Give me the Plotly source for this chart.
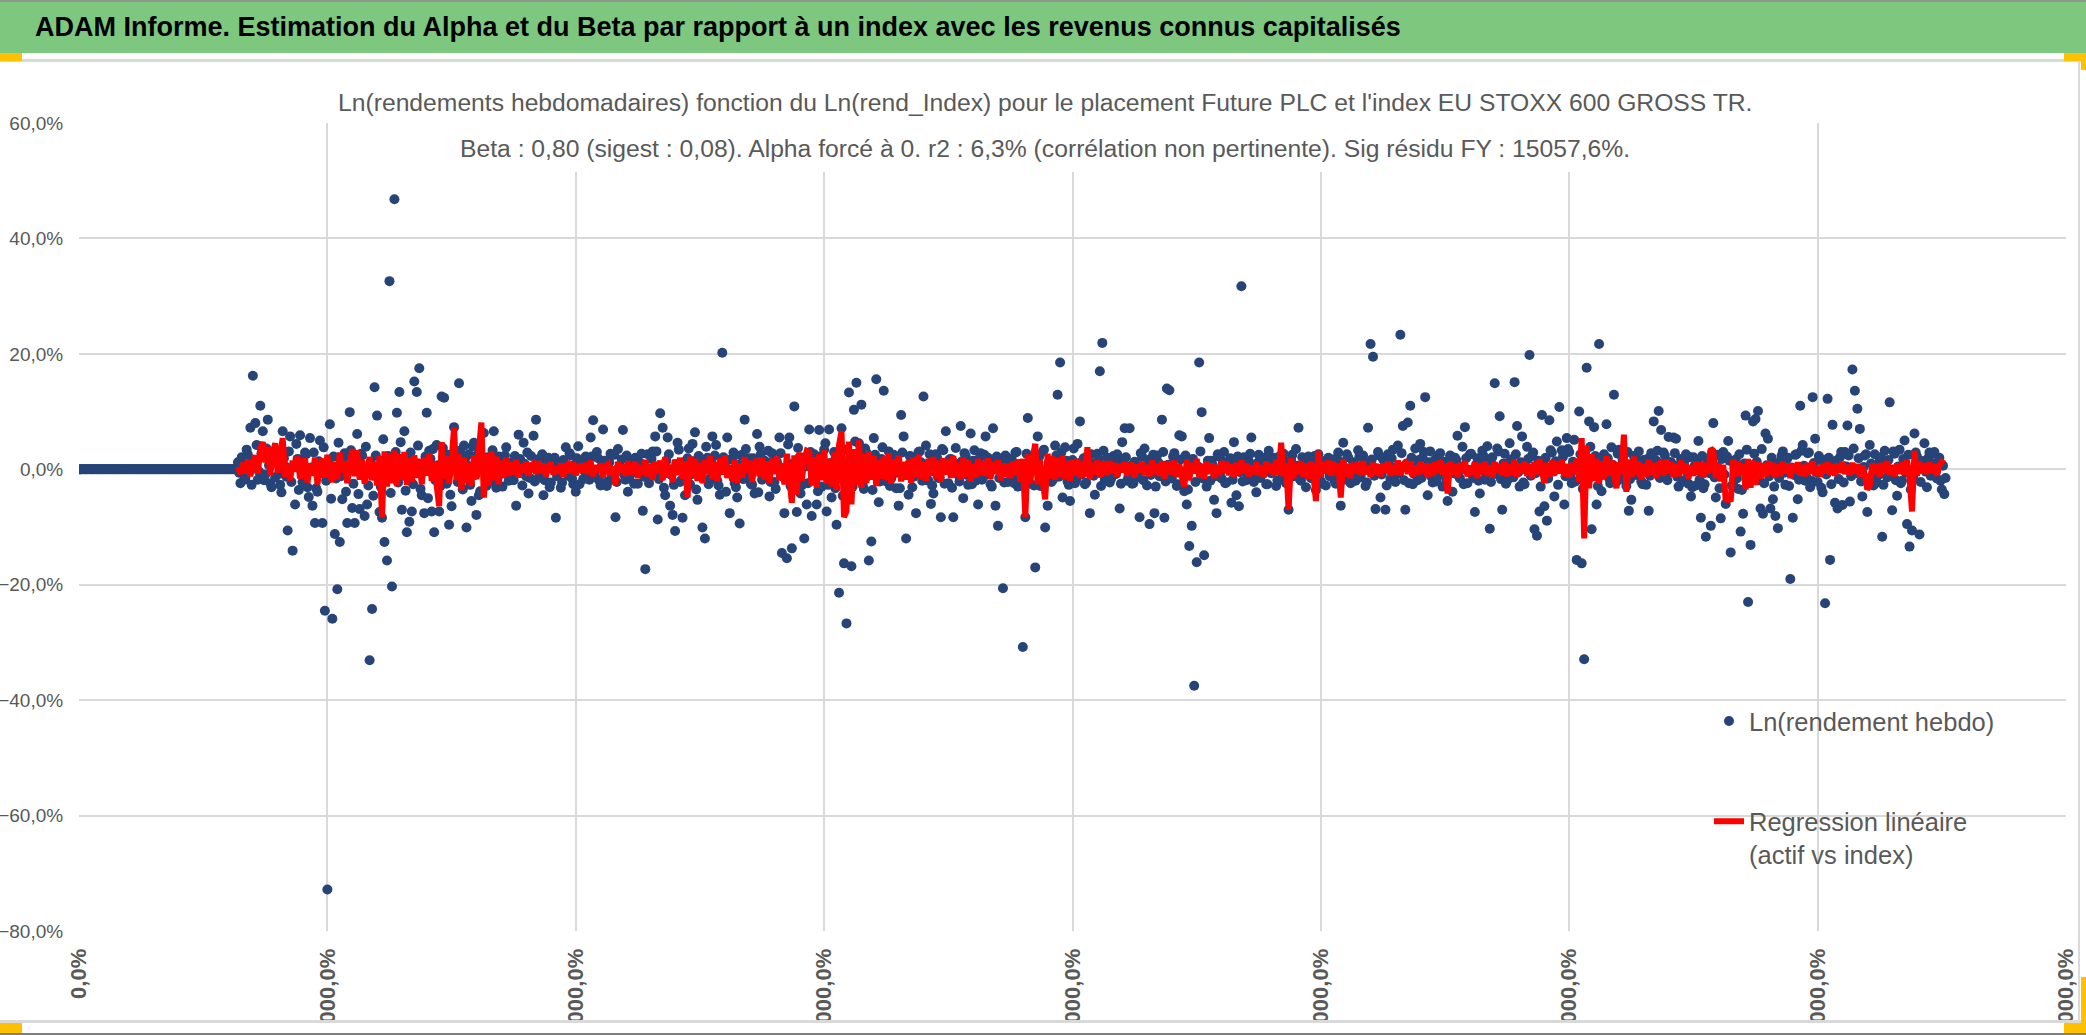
import numpy as np
import plotly.graph_objects as go

LARGEUR, HAUTEUR = 2086, 1035
MARGE_G, MARGE_D, MARGE_H, MARGE_B = 79, 20, 123, 104

TITRE = "ADAM Informe. Estimation du Alpha et du Beta par rapport à un index avec les revenus connus capitalisés"
SOUS_TITRE_1 = ("Ln(rendements hebdomadaires) fonction du Ln(rend_Index) pour le placement "
                "Future PLC et l'index EU STOXX 600 GROSS TR.")
SOUS_TITRE_2 = ("Beta : 0,80 (sigest : 0,08). Alpha forcé à 0. r2 : 6,3% (corrélation non pertinente). "
                "Sig résidu FY : 15057,6%.")
NOM_ACTIF = "Ln(rendement hebdo)"
NOM_REGRESSION = "Regression linéaire<br>(actif vs index)"

graduations_x = [0, 200, 400, 600, 800, 1000, 1200, 1400, 1600]
graduations_y = [-0.8, -0.6, -0.4, -0.2, 0.0, 0.2, 0.4, 0.6]

# valeurs en %, une par semaine
# semaines 0 a 127 : pas encore cote, rendement nul
avant_cotation = [
    0, 0, 0, 0, 0, 0, 0, 0, 0, 0, 0, 0, 0, 0, 0, 0,
    0, 0, 0, 0, 0, 0, 0, 0, 0, 0, 0, 0, 0, 0, 0, 0,
    0, 0, 0, 0, 0, 0, 0, 0, 0, 0, 0, 0, 0, 0, 0, 0,
    0, 0, 0, 0, 0, 0, 0, 0, 0, 0, 0, 0, 0, 0, 0, 0,
    0, 0, 0, 0, 0, 0, 0, 0, 0, 0, 0, 0, 0, 0, 0, 0,
    0, 0, 0, 0, 0, 0, 0, 0, 0, 0, 0, 0, 0, 0, 0, 0,
    0, 0, 0, 0, 0, 0, 0, 0, 0, 0, 0, 0, 0, 0, 0, 0,
    0, 0, 0, 0, 0, 0, 0, 0, 0, 0, 0, 0, 0, 0, 0, 0,
]

# Ln(rendement hebdo), semaines paires 128 a 1502
rend_pair = [
    1.2, -2.4, 0.8, -1.5, 2.5, 7.2, 16.2, 8.0, -1.8, 11.0,
    6.6, -0.9, 8.6, -2.4, 2.1, -1.4, 3.0, -2.7, 6.6, 0.5,
    -10.6, 5.7, -14.1, -6.1, 1.8, 5.9, -2.2, 2.9, -3.1, 5.4,
    -6.3, -9.3, -3.9, 5.0, -9.3, -24.5, -72.8, 7.8, -25.9, -11.2,
    -20.8, -12.6, -5.2, 2.8, -9.3, 9.9, -6.7, -9.3, 6.1, -6.9,
    2.4, -8.1, -6.1, -33.1, -24.2, 14.2, 9.3, -7.4, -8.4, -12.6,
    -15.8, 32.6, -20.3, 46.8, 9.8, 13.4, -7.0, 6.6, -10.9, -9.1,
    -7.3, 15.2, 13.4, 17.5, -4.5, -7.6, 9.8, 3.2, -7.3, -10.9,
    4.2, -7.3, 12.6, 12.4, -2.5, -9.6, -6.4, 7.3, 2.1, 14.9,
    -1.8, 4.1, -10.1, 2.6, -5.5, 4.6, -7.9, -4.5, 1.7, 6.3,
    -2.9, 1.3, -1.6, 6.6, -3.2, 2.2, -0.8, 1.9, 3.8, -2.0,
    0.6, -1.9, -6.3, 6.0, 1.4, 4.6, -1.2, -4.2, 2.3, 5.8,
    8.6, -1.5, 1.8, -4.5, 0.3, 2.0, -2.3, 1.1, -8.4, 0.9,
    -3.2, 1.6, 3.8, -1.1, 2.4, -2.6, -3.9, 4.0, 0.5, -1.7,
    2.2, -0.9, 5.5, 8.5, -1.4, 1.9, -2.8, 6.9, 1.2, -2.1,
    2.7, -1.0, -8.3, 3.5, 0.4, 6.8, -1.8, -3.9, 1.5, -0.6,
    2.0, -2.5, 1.1, -7.2, -17.3, 2.6, -1.3, 3.1, 5.7, -8.7,
    9.7, 7.2, -4.5, 5.5, -6.3, -7.9, -10.7, 4.6, -2.2, -8.4,
    -4.5, 1.9, -2.6, 4.4, 6.4, -5.3, 1.2, -10.1, -12.0, 2.0,
    -1.6, 5.7, 2.4, -2.0, -4.4, 20.2, 1.0, 5.5, -7.6, 1.8,
    -2.4, -4.9, -9.4, 2.5, 8.6, -1.1, 1.9, -2.7, -4.2, 6.1,
    3.9, -1.8, 1.5, -0.7, -4.7, 2.8, -2.2, 1.3, 5.5, -14.5,
    -7.6, -15.4, 5.5, -13.7, 10.9, -7.4, 2.0, -2.8, -12.0, -6.1,
    6.9, -8.1, 2.6, -6.1, 6.8, -3.0, 3.4, -7.3, 6.9, -4.9,
    3.0, -9.6, -21.4, 7.1, -16.3, -26.7, 13.3, -16.8, 10.3, 15.0,
    4.5, 11.2, -3.4, 2.9, -15.8, -12.5, 5.4, 15.6, -5.7, 1.8,
    13.6, -2.1, 3.1, -1.6, 2.5, -3.3, -6.3, 9.4, 5.7, -12.0,
    -4.4, 2.2, -1.3, -7.6, 3.0, 1.2, 12.6, 4.1, -2.0, -6.0,
    -4.2, 2.6, -1.5, -8.3, 3.3, 6.6, -2.4, 1.8, -8.3, 3.7,
    -1.0, 7.5, -5.0, 2.3, -2.7, 6.2, 1.5, -2.0, -6.1, 2.8,
    -1.4, 5.7, 2.0, -2.6, 7.1, -6.3, -9.8, 1.6, -20.6, 2.4,
    -2.2, 1.2, -1.0, 2.9, -3.0, 0.8, -30.8, -8.3, 8.9, -2.5,
    2.1, -17.0, 5.7, -2.9, 3.0, -10.1, -6.3, 1.4, -1.9, 4.1,
    12.9, 18.5, -4.9, 3.8, -2.1, -5.5, 1.6, -2.4, 4.4, 8.3,
    1.2, -2.6, 2.3, -7.6, 1.0, -4.4, 2.7, 17.0, 21.9, -1.8,
    2.0, -2.3, 1.5, -0.9, 2.6, -6.8, 4.7, 7.1, -2.0, 7.1,
    -2.5, 1.3, -1.4, -8.3, 2.2, 3.6, -2.8, -9.5, 1.9, -7.6,
    2.4, -1.2, 8.6, -8.4, 14.0, 13.7, -1.6, 2.8, -2.9, 5.9,
    5.7, -3.8, -6.1, -13.3, -9.8, -37.5, -16.1, 18.5, 9.9, -14.9,
    -3.0, 5.4, 1.5, -5.3, -7.6, 2.2, -1.6, 3.0, -2.3, 1.1,
    -5.8, 4.7, -4.5, -6.4, 31.7, 2.1, -1.9, 1.4, 5.5, -2.2,
    -4.0, 2.5, -1.1, 1.8, -2.6, 3.2, -0.7, 2.0, -2.9, 1.3,
    -1.8, 2.7, -2.4, -7.0, 1.6, -1.2, 3.5, 7.2, -2.0, 1.0,
    -3.1, 2.2, -1.5, 0.9, -3.6, 2.6, -2.1, 1.4, -2.8, 2.0,
    -1.0, 1.7, -2.5, 2.9, -6.3, 4.6, -1.6, 2.1, -2.4, 1.2,
    -2.0, 3.3, -1.4, 2.4, -2.9, 7.2, 21.7, 19.5, -6.9, 3.0,
    -4.9, 1.8, -7.0, 2.6, -1.7, 3.4, -2.2, 4.1, 23.3, 7.5,
    -7.0, 8.1, 11.0, -2.6, 3.6, -1.9, 4.4, 2.0, 12.5, -4.5,
    3.1, -2.3, 1.7, -1.2, 2.8, -3.0, 1.3, -5.5, 2.4, -3.9,
    2.0, 5.8, -1.6, 3.9, 7.3, -2.4, 2.6, -1.0, -7.4, 1.9,
    -4.2, 3.2, -1.8, 4.0, -10.3, 2.1, 14.9, 3.6, 9.2, -7.0,
    2.7, -2.0, 4.5, 1.1, 15.1, 7.5, -3.0, 5.7, -2.6, 3.9,
    19.8, 2.4, -10.4, -11.5, -7.3, 9.4, -6.4, -8.9, 8.5, 2.9,
    -4.7, 4.8, 10.8, 3.3, -6.1, 5.4, 3.0, -2.4, 5.1, -15.7,
    10.0, -16.3, -32.9, 17.6, 8.3, -10.4, 7.3, -6.1, 21.7, -3.8,
    2.6, 7.8, -1.5, 3.8, 12.9, -2.2, 3.4, -1.3, 2.5, -2.9,
    -7.2, -5.3, 2.3, -1.0, 3.1, -2.1, 1.6, -2.7, -7.2, 2.8,
    8.3, 1.5, 10.1, 6.8, 2.9, -1.4, 5.6, 1.2, 5.5, 5.3,
    -3.0, 1.8, -1.9, 2.6, -2.5, -4.7, 2.1, -2.8, 4.9, -8.4,
    -3.3, -11.7, 1.9, -9.8, 8.0, -4.9, 2.5, -8.5, 3.0, -6.0,
    4.9, -14.4, -2.6, 1.7, -3.4, -10.8, -7.7, 9.3, -23.0, -13.1,
    8.3, 8.7, 10.1, -6.8, -7.7, 6.2, 5.3, -6.8, -5.2, -8.1,
    -10.2, 1.4, 3.1, -2.7, 2.0, -19.0, -8.4, 2.5, -5.2, 11.0,
    4.2, -2.0, 2.8, -3.1, 12.5, 5.3, -2.2, 1.6, -4.0, -23.2,
    12.2, -15.7, 7.7, -5.8, -6.8, 2.1, -6.2, 3.0, 7.6, -5.6,
    17.3, 13.6, 10.5, 7.0, -4.7, 2.4, -7.4, 4.2, -1.8, 2.6,
    -2.3, 1.5, -11.7, 3.2, -1.4, 11.6, -7.1, 2.7, -4.6, 3.4,
    -2.0, 5.0, -9.5, -13.4, -10.6, 6.2, 2.2, -11.3, 1.4, 4.5,
    -3.1, 2.9, 1.0, 3.0, -1.6, 2.0, -3.5, -4.3,
]

# Ln(rendement hebdo), semaines impaires 129 a 1503
rend_impair = [
    -0.6, 2.1, -1.8, 3.4, 0.9, -2.7, 1.5, 4.2, -0.4, 2.8,
    -1.9, 3.6, 0.7, -3.1, 1.2, 2.5, -0.8, -4.0, 1.9, -1.3,
    3.1, -2.2, 0.5, 4.4, -3.6, 1.7, -1.0, 2.6, -4.8, 0.3,
    2.9, -3.3, 1.4, -0.7, 3.8, -2.0, 0.9, -5.1, 2.2, -1.6,
    4.6, -1.2, 2.0, -3.9, 0.6, 3.3, -2.5, 1.1, -4.3, 2.7,
    -0.9, 3.9, -2.8, 1.3, -4.6, 2.4, 0.2, -3.0, 5.2, -1.5,
    2.3, -4.1, 0.8, 3.0, -2.3, 4.7, -1.1, -3.7, 1.6, 2.9,
    -2.6, 1.0, 4.1, -3.4, 0.4, 2.2, -5.0, 1.8, 3.5, -1.9,
    0.7, -2.9, 3.7, -1.4, 2.5, -4.4, 1.2, 0.1, -2.2, 3.2,
    -3.5, 1.9, 0.6, -2.7, 4.0, -1.0, 2.6, -3.8, 1.4, -0.5,
    2.1, -1.7, 3.3, -2.4, 0.8, 1.6, -3.0, 2.4, -0.9, 1.1,
    -1.4, 2.3, -0.6, 1.8, -2.8, 0.9, 2.9, -1.5, 0.3, -2.1,
    1.7, -0.8, 2.6, -1.9, 0.5, -3.1, 1.3, 2.0, -1.2, 0.7,
    -2.3, 1.0, -0.4, 2.8, -1.6, 0.8, 1.9, -2.6, 1.4, -0.3,
    0.9, -1.8, 2.2, -0.7, 3.0, -2.0, 0.6, 1.5, -2.9, 1.2,
    -1.1, 2.5, -2.2, 0.4, 1.7, -0.9, 2.4, -1.6, 0.8, -2.5,
    1.6, -0.5, 2.7, -1.3, 0.2, -2.4, 1.8, -0.8, 3.1, -1.7,
    0.6, -3.2, 1.5, 2.6, -1.0, -2.7, 0.9, 3.4, -1.9, 1.2,
    -2.0, 3.6, -0.9, 1.4, -3.5, 2.3, -1.2, 0.5, 3.9, -2.6,
    1.3, -1.5, 4.2, -2.8, 0.7, 2.1, -3.9, 1.6, -0.4, 2.9,
    -3.1, 0.8, 2.4, -1.7, 3.5, -0.6, -2.5, 1.9, 0.3, -4.0,
    2.6, -1.1, 0.9, 3.2, -2.2, 1.5, -3.4, 0.6, 2.8, -1.3,
    -0.7, 4.3, -2.9, 1.0, -1.8, 3.7, -4.2, 2.0, 0.5, -2.4,
    3.0, -1.6, 1.8, -3.8, 2.2, -0.2, 4.5, -2.7, 1.1, -1.0,
    -3.3, 2.7, 0.4, -4.6, 3.4, -1.5, 2.0, -3.0, 4.8, -0.8,
    1.7, -2.6, 3.6, -1.2, 0.6, -3.6, 2.5, 1.0, -2.1, 3.8,
    -1.5, 0.9, -2.9, 2.4, -0.7, 1.6, -3.3, 2.9, -1.0, 0.4,
    2.3, -3.1, 1.2, -0.5, 3.1, -2.0, 0.8, -1.7, 2.6, -2.8,
    0.6, 2.0, -1.4, 3.5, -2.5, 0.3, 1.7, -3.2, 1.1, -0.6,
    -2.1, 1.4, 2.8, -1.0, 0.5, -2.6, 3.3, -0.8, 1.9, -1.8,
    2.5, -0.9, 0.7, -3.0, 1.6, 2.2, -1.5, 0.4, -2.3, 1.3,
    -0.6, 1.8, -2.4, 3.0, -1.2, 0.9, -1.9, 2.7, -0.3, 1.0,
    -2.8, 0.6, 2.1, -1.6, 3.4, -0.7, 1.2, -2.2, 0.8, 2.4,
    -1.3, 2.9, -0.5, 1.5, -2.7, 0.2, 3.6, -1.8, 1.0, -0.9,
    1.9, -2.3, 0.7, 2.6, -1.1, -0.4, 1.8, -2.9, 3.2, -1.4,
    0.5, -1.7, 2.3, -0.8, 1.4, -2.5, 0.9, 2.1, -1.3, 0.6,
    -2.4, 1.1, -0.6, 2.8, -1.9, 0.4, 1.6, -1.0, 2.5, -3.0,
    1.2, -0.7, 3.0, -2.1, 0.8, -1.4, 2.2, -0.3, -2.6, 1.7,
    -1.0, 2.4, -3.5, 0.9, 1.8, -2.2, 0.5, 3.1, -1.6, 0.2,
    1.5, -2.0, 0.7, -1.2, 2.6, -0.6, 1.3, -2.4, 0.4, 1.9,
    -1.8, 0.9, 2.2, -0.5, -2.1, 1.6, -0.9, 2.7, -1.4, 0.6,
    1.1, -1.5, 0.3, 2.0, -2.6, 1.2, -0.4, 1.7, -1.9, 2.3,
    -0.7, 1.4, -2.2, 0.8, 2.5, -1.1, 0.6, -1.7, 2.1, -0.9,
    1.8, -0.4, -1.6, 2.3, -0.8, 1.0, -2.5, 0.7, 1.5, -1.2,
    0.4, -2.0, 1.9, -0.6, 1.2, -1.8, 2.6, -0.3, -1.4, 0.9,
    -1.6, 2.2, -0.5, 1.3, -2.3, 0.8, 1.7, -1.1, 0.2, 2.4,
    -0.9, 1.5, -2.8, 0.6, 1.9, -1.3, 0.4, -0.7, 2.8, -1.9,
    1.0, -2.4, 2.0, -0.8, 0.5, 1.6, -1.5, 3.0, -0.6, 1.2,
    -1.3, 0.7, -2.1, 2.5, -0.4, 1.1, -1.8, 0.9, 2.2, -0.7,
    1.6, -1.2, 0.5, -2.6, 1.9, -0.3, 2.7, -1.5, 0.8, -2.0,
    0.9, 2.3, -1.0, 1.4, -2.2, 0.6, -0.8, 3.1, -1.7, 1.0,
    -2.5, 0.8, 1.7, -1.4, 2.6, -0.5, 1.2, -2.3, 0.4, 1.8,
    -1.1, 2.9, -0.7, 1.5, -3.0, 0.9, 2.0, -1.6, 3.3, -0.4,
    1.4, -2.7, 0.6, 2.2, -1.2, 3.5, -0.9, 1.3, -2.1, 0.7,
    2.6, -3.4, 1.0, -1.8, 3.9, -0.6, 2.3, -2.9, 1.5, -1.0,
    0.5, 1.9, -2.4, 0.8, -1.3, 2.7, -0.4, 1.6, -2.0, 3.0,
    -1.7, 0.7, 2.2, -0.9, 1.4, -2.6, 0.3, 1.8, -1.1, 2.5,
    -0.6, 3.2, -1.5, 0.9, 2.4, -1.9, 1.2, -0.2, 2.8, -1.3,
    0.8, -2.2, 1.6, -0.5, 2.1, -3.1, 0.6, 1.3, -1.8, 2.3,
    -2.6, 1.1, -0.7, 2.9, -1.4, 0.5, -3.3, 1.8, -0.9, 2.2,
    1.5, -2.8, 0.4, -1.6, 2.6, -3.6, 1.0, 3.4, -2.2, -0.8,
    2.7, 1.3, -1.9, 3.5, -2.4, 0.7, -1.2, 2.0, -3.0, 0.9,
    -1.5, 2.4, -0.6, 1.7, -2.9, 0.3, -1.0, 2.6, -1.8, 3.2,
    0.6, -1.4, 2.9, -2.0, 1.1, -0.5, 2.3, -3.2, 1.6, -0.9,
    2.0, -2.6, 0.8, 1.5, -1.7, 3.0, -2.3, 0.5, 2.4, -1.2,
    3.6, -0.7, 1.9, -2.1, 0.4, 2.6, -1.6, 1.0, -2.8, 0.7,
    -1.0, 2.1, -2.7, 0.9, 1.6, -0.8, 3.1, -1.9, 0.5, -2.4,
    1.8, -0.6, 2.5, -3.5, -1.3, 2.9, 0.8, -2.2, 1.4, -0.4,
    1.9, -1.1, 2.7, -0.5, 1.2, -2.0, 0.6, -1.5,
]

# regression lineaire (beta x Ln(rend index)), semaines paires 128 a 1502
regression = [
    0.4, -0.8, 1.1, -0.5, 1.6, -1.2, 0.9, 2.4, -0.7, 3.6,
    4.7, 1.2, 3.9, -1.0, 2.8, 4.5, -0.6, 1.7, 5.4, -1.3,
    0.8, -1.9, 1.5, -0.4, 2.2, -1.6, 0.6, 1.9, -2.3, 1.0,
    -1.1, 2.0, -2.6, 0.7, 1.8, -1.4, 2.5, -0.9, -2.2, 1.3,
    -1.7, 2.9, -0.6, 1.4, -2.4, 0.9, 3.5, -1.2, 3.3, -1.8,
    1.6, -2.5, 0.8, 2.1, -1.9, 1.2, -2.8, 2.3, -8.3, 3.1,
    -3.0, 2.8, -2.4, 3.2, -2.9, 2.6, -1.8, 3.0, -2.7, 1.9,
    -2.2, 2.4, -1.5, 1.8, -2.6, 2.0, -1.1, 2.7, -2.0, 1.3,
    -2.8, -6.4, 4.7, -1.6, 2.2, -2.5, 1.4, 7.2, -1.9, 2.6,
    -3.6, 2.0, -2.3, 1.1, -2.9, 2.4, -1.7, 3.0, 8.1, -4.9,
    2.6, -2.8, 3.1, -1.9, 2.2, -2.6, 1.5, -1.3, 2.0, -1.1,
    1.2, -0.9, 1.6, -1.4, 0.8, -0.5, 1.3, -1.1, 0.7, 1.0,
    -0.8, 1.4, -0.6, 0.9, -1.2, 0.5, 1.1, -0.9, 0.4, -0.7,
    1.0, -1.3, 0.6, 0.9, -0.7, 1.2, -1.0, 0.3, 0.8, -0.6,
    1.1, -0.8, 1.5, -1.2, 0.7, -0.4, 1.0, -1.4, 0.6, 0.9,
    -1.0, 0.5, -2.7, 1.3, -0.6, 0.8, -1.1, 1.4, -0.9, 0.4,
    1.2, -1.5, 0.7, -0.9, 1.6, -1.2, 0.9, -1.8, 1.3, -0.7,
    1.5, -1.9, 2.1, -1.4, 0.8, -2.2, 1.7, -1.0, 2.0, -1.6,
    1.4, -4.9, 2.2, -1.3, 1.8, -2.0, 1.1, -2.4, 1.6, -0.8,
    2.3, -1.7, 1.2, -2.1, 1.9, -0.9, 2.4, -1.5, 0.7, -2.0,
    1.6, -2.3, 1.0, -1.4, 2.1, -0.6, 1.5, -2.2, 0.9, 1.7,
    -1.2, 2.0, -1.7, 1.3, -2.4, 1.8, -0.8, 2.2, -1.9, 1.0,
    -2.6, 2.7, -3.1, -5.8, 2.4, -4.4, 2.9, -2.0, 1.6, 3.2,
    3.0, -2.8, 2.1, -3.2, 2.6, -1.9, 3.3, -2.5, 1.8, -3.0,
    2.9, -3.6, 4.2, 6.6, -8.3, -7.3, 4.8, -6.1, 3.5, -2.7,
    5.0, -3.2, 2.6, -2.4, 3.1, -1.8, 2.3, -2.9, 1.5, -1.6,
    2.2, -1.9, 2.8, -2.5, 1.7, -1.2, 2.4, -2.1, 1.3, -1.8,
    1.6, -2.3, 2.0, -1.4, 2.5, -1.7, 1.2, -2.0, 1.8, -1.1,
    2.1, -1.6, 1.4, -2.2, 1.9, -0.9, 1.7, -1.5, 2.3, -1.2,
    1.1, -1.8, 2.0, -1.3, 1.5, -2.1, 0.9, -1.4, 1.8, -1.0,
    1.4, -1.1, 1.9, -1.6, 1.2, -0.8, 1.6, -1.9, 1.0, -1.3,
    0.9, -1.5, 1.3, -1.0, 1.7, -2.2, 1.8, -8.3, 2.6, -2.4,
    2.0, 4.4, -2.6, 1.5, -2.1, -5.2, 2.7, -1.6, 2.2, -1.8,
    1.9, -1.3, 2.3, -1.7, 1.4, -2.0, 1.6, -1.1, 1.8, -1.5,
    1.3, -1.2, 3.8, -1.6, 1.1, -0.9, 1.5, -1.4, 0.8, 1.2,
    -1.0, 1.4, -0.7, 1.1, -1.3, 0.9, -0.5, 1.2, -1.1, 0.6,
    1.0, -1.4, 0.8, -0.6, 1.3, -1.0, 0.7, -1.2, 1.5, -0.8,
    0.9, -1.1, 1.4, -1.6, 0.6, 1.2, -0.9, 1.5, -1.3, 0.8,
    -1.2, -3.0, 1.6, -1.9, 1.1, -0.7, 1.8, -1.4, 0.9, -1.6,
    1.3, -0.8, 1.0, -1.5, 0.7, -1.1, 1.4, -0.6, 1.2, -1.0,
    0.8, -1.3, 1.1, -0.9, 1.5, -0.7, 1.0, -1.2, 0.6, -0.8,
    1.2, -1.0, 0.7, -1.4, 1.3, -0.6, 0.9, -1.1, 1.6, -0.9,
    4.6, -1.2, 1.0, -7.0, 1.9, -1.5, 1.1, -0.8, 1.4, -1.3,
    1.0, -1.6, 1.3, -0.9, -5.5, 3.2, -1.4, 1.2, -0.7, 1.5,
    -1.1, 1.3, -0.8, 1.0, -4.9, 1.7, -1.2, 0.9, -1.5, 1.1,
    -0.7, 1.2, -1.0, 1.4, -0.8, 0.6, -1.3, 1.1, -0.9, 0.8,
    -1.2, 1.0, -0.6, 1.3, -1.1, 0.7, -0.9, 1.5, -1.0, 0.8,
    1.1, -0.8, 1.4, -1.2, 0.6, -1.0, 1.3, -0.7, 1.0, -1.4,
    0.9, -1.1, 1.2, -0.6, 1.5, -0.9, 1.0, -4.2, 1.3, -1.0,
    0.8, -1.3, 1.1, -0.7, 1.4, -1.2, 0.6, -0.9, 1.2, -1.5,
    1.0, -0.8, 1.3, -1.1, 0.7, -1.4, 1.2, -0.6, 0.9, -1.0,
    1.4, -1.2, 0.8, -0.9, 1.6, -1.3, 1.0, -0.7, 1.3, -1.1,
    0.9, -1.5, 1.2, -0.8, 1.7, -1.0, -2.4, 1.1, -1.3, 1.5,
    -1.0, 1.3, -0.7, 1.6, -1.2, 0.9, -1.4, 1.1, -0.8, 1.8,
    -2.2, 5.4, -12.0, 4.1, -3.3, 2.6, -2.0, 1.8, -2.5, 1.4,
    -1.6, 2.3, -1.1, 1.5, -1.9, -3.3, 1.2, -0.8, 6.0, -3.9,
    1.7, -1.4, 2.2, -1.0, 1.3, -1.8, 0.9, -1.2, 1.6, -0.9,
    1.1, -1.5, 0.8, 1.4, -1.1, 1.7, -0.6, 1.2, -1.3, 0.9,
    -1.2, 1.5, -0.8, 1.0, -1.6, 0.7, -1.1, 1.3, -0.9, 1.2,
    -1.4, 1.1, -0.7, 3.6, 3.2, -1.5, 1.0, -2.1, 0.8, -5.6,
    -4.8, -5.6, 1.6, -1.2, 1.4, -1.0, 0.9, -3.5, 1.8, -3.2,
    1.5, -2.7, 1.2, -1.6, 1.0, -1.3, 1.4, -0.9, 1.1, -1.4,
    0.8, -1.1, 1.3, -0.7, 1.0, -1.5, 0.9, -0.6, 1.2, -1.0,
    0.7, -1.2, 1.1, -0.8, 1.4, -1.0, 0.6, -1.3, 0.9, -0.7,
    1.2, -0.9, 0.8, -1.1, 1.0, -0.6, 1.3, -0.8, 0.7, -1.0,
    1.1, -0.7, 0.9, -1.2, 0.6, -0.9, -3.5, -2.8, 1.0, -0.8,
    0.9, -1.3, 1.1, -0.6, 1.4, -1.0, 0.7, -1.2, 1.0, -0.8,
    1.2, -0.9, 1.6, -1.4, -7.3, 3.2, -1.1, 1.3, -0.7, 1.0,
    -0.8, 1.2, -0.6, 0.9, -1.1, 0.7, 1.3, 1.0,
]

assert len(rend_pair) == len(rend_impair) == len(regression)

cote = np.empty(2 * len(rend_pair))
cote[0::2] = rend_pair
cote[1::2] = rend_impair
y_actif = np.concatenate([avant_cotation, cote]) / 100
semaines = np.arange(len(y_actif))
semaines_reg = semaines[len(avant_cotation)::2]
y_reg = np.array(regression) / 100

GRIS_TEXTE = "#595959"
GRIS_GRILLE = "#D9D9D9"
SANS = "Liberation Sans, Arial"

plot_w = LARGEUR - MARGE_G - MARGE_D
plot_h = HAUTEUR - MARGE_H - MARGE_B


def px_x(px):
    return (px - MARGE_G) / plot_w


def px_y(py):
    return (HAUTEUR - MARGE_B - py) / plot_h


def rect(x0, y0, x1, y1, couleur):
    return dict(type="rect", xref="paper", yref="paper", layer="above",
                x0=px_x(x0), x1=px_x(x1), y0=px_y(y1), y1=px_y(y0),
                fillcolor=couleur, line_width=0)


fig = go.Figure()
fig.add_trace(go.Scatter(x=semaines, y=y_actif, mode="markers", name=NOM_ACTIF,
                         legendgroup="a", zorder=0,
                         marker=dict(color="#264478", size=10)))
# la droite de regression est tracee par-dessus les points, comme dans Excel
fig.add_trace(go.Scatter(x=semaines_reg, y=y_reg, mode="lines", name=NOM_REGRESSION,
                         legendgroup="b", zorder=1,
                         line=dict(color="#FF0000", width=6)))

formes = [
    rect(0, 0, LARGEUR, 2, "#8A9A8A"),
    rect(0, 2, LARGEUR, 53, "#7DC77E"),
    rect(0, 59, LARGEUR, 62, GRIS_GRILLE),
    rect(0, 53, 22, 61, "#FFC000"),
    rect(2064, 53, LARGEUR, 61, "#FFC000"),
    rect(2081, 61, LARGEUR, 70, "#FFC000"),
    rect(330, 80, 1752, 172, "white"),
    rect(2078, 62, 2080, 1021, GRIS_GRILLE),
    rect(0, 1021, LARGEUR, HAUTEUR, "white"),
    rect(0, 1020, LARGEUR, 1023, GRIS_GRILLE),
    rect(0, 1033, LARGEUR, HAUTEUR, "#7F7F7F"),
    rect(0, 1023, 22, 1033, "#FFC000"),
    rect(2064, 1023, LARGEUR, 1033, "#FFC000"),
    rect(2081, 977, LARGEUR, 1023, "#FFC000"),
]

notes = [
    dict(text="<b>" + TITRE + "</b>", x=px_x(33), y=px_y(27), xanchor="left", yanchor="middle",
         font=dict(family=SANS, size=27, color="black")),
    dict(text=SOUS_TITRE_1, x=px_x(1045), y=px_y(102), xanchor="center", yanchor="middle",
         font=dict(family=SANS, size=24.7, color=GRIS_TEXTE)),
    dict(text=SOUS_TITRE_2, x=px_x(1045), y=px_y(148), xanchor="center", yanchor="middle",
         font=dict(family=SANS, size=24.7, color=GRIS_TEXTE)),
]
for n in notes:
    n.update(xref="paper", yref="paper", showarrow=False)

fig.update_layout(
    width=LARGEUR, height=HAUTEUR,
    margin=dict(l=MARGE_G, r=MARGE_D, t=MARGE_H, b=MARGE_B, autoexpand=False),
    paper_bgcolor="white", plot_bgcolor="white",
    separators=",.",
    shapes=formes,
    annotations=notes,
    showlegend=True,
    legend=dict(x=px_x(1709), y=px_y(698), xanchor="left", yanchor="top", valign="top",
                bgcolor="rgba(0,0,0,0)", traceorder="grouped", tracegroupgap=64,
                font=dict(family=SANS, size=25.5, color=GRIS_TEXTE)),
    xaxis=dict(range=[0, 1600], tickvals=graduations_x, tickformat=".1%", tickangle=-90,
               showgrid=True, gridcolor=GRIS_GRILLE, gridwidth=2,
               zeroline=False, showline=True, linecolor=GRIS_GRILLE, linewidth=2, mirror=True,
               ticks="", ticklabelstandoff=7,
               tickfont=dict(family=SANS, size=22, color=GRIS_TEXTE, weight="bold")),
    yaxis=dict(range=[-0.8, 0.6], tickvals=graduations_y, tickformat=".1%",
               showgrid=True, gridcolor=GRIS_GRILLE, gridwidth=2,
               zeroline=True, zerolinecolor=GRIS_GRILLE, zerolinewidth=2,
               showline=True, linecolor=GRIS_GRILLE, linewidth=2, mirror=True,
               ticks="", ticklabelstandoff=10,
               tickfont=dict(family=SANS, size=19, color=GRIS_TEXTE)),
)

fig.write_html("out.html", config={"displayModeBar": False},
               post_script="document.body.style.margin='0';")
